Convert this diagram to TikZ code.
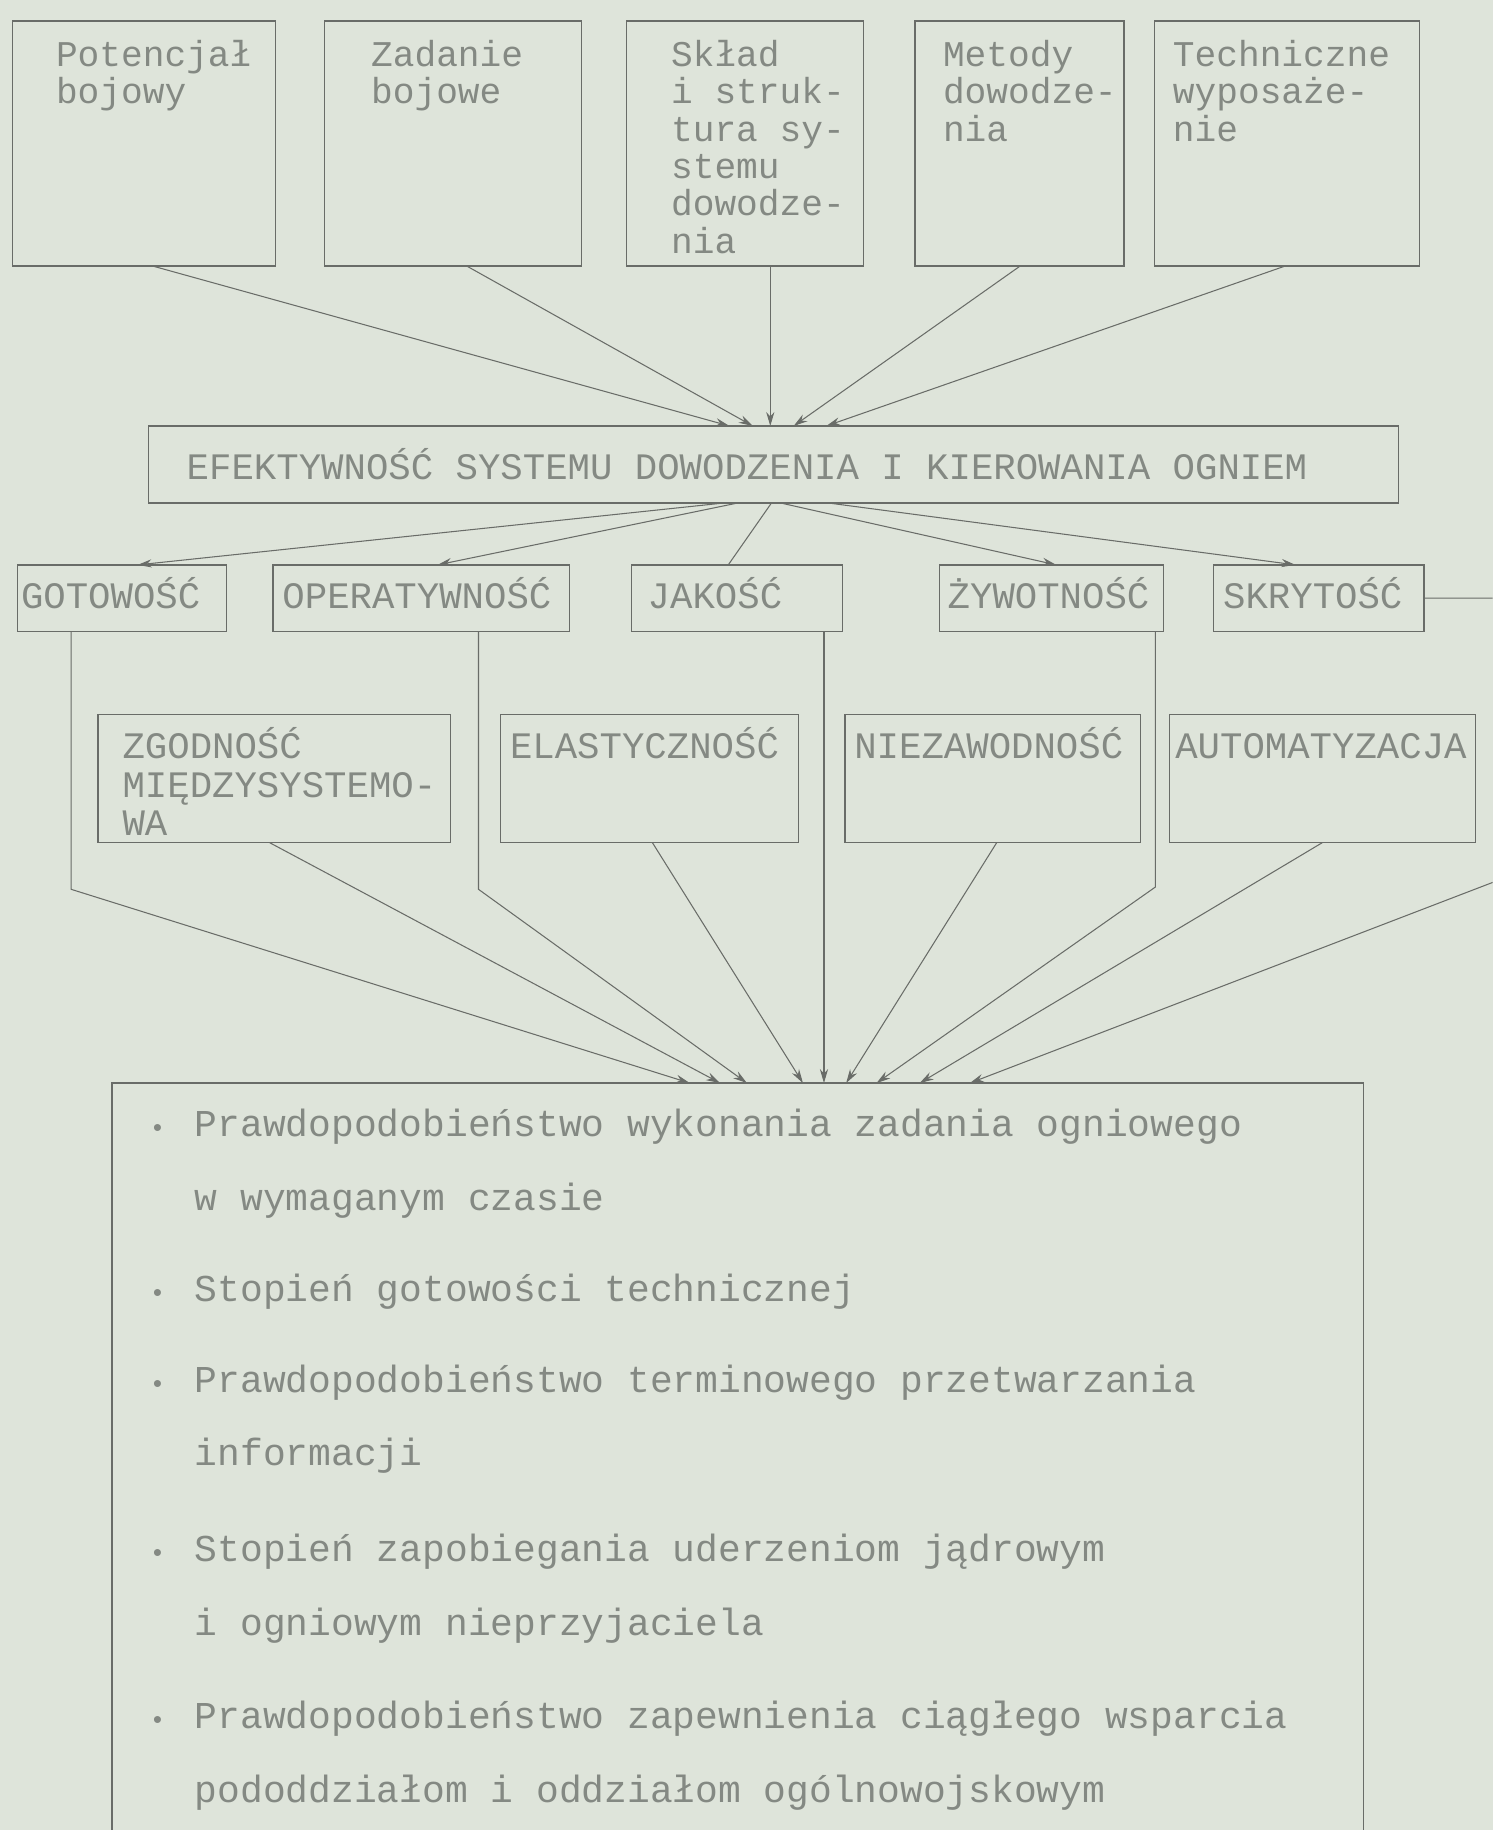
\documentclass[tikz,border=0pt]{standalone}
\usepackage{fontspec}
\setmainfont{Liberation Mono}
\usetikzlibrary{arrows.meta}
\definecolor{bg}{RGB}{222,228,218}
\definecolor{linecol}{RGB}{105,108,104}
\definecolor{txtcol}{RGB}{132,137,131}
\newcommand\tstrut{\rule{0pt}{16pt}}
\newcommand\bul{\llap{\makebox[12pt][c]{\fontsize{11pt}{11pt}\selectfont •}\hspace{10pt}}}
\begin{document}
\setlength{\lineskiplimit}{-20pt}
\setlength{\lineskip}{0pt}
\begin{tikzpicture}[x=0.5pt,y=-0.5pt,
  box/.style={draw=linecol, line width=0.55pt, inner sep=0pt, outer sep=0pt, anchor=north west},
  txt/.style={text=txtcol, inner sep=0pt, outer sep=0pt, anchor=north west, align=left,
    font=\fontsize{15.5pt}{16pt}\selectfont},
  txtb/.style={txt, font=\fontsize{16pt}{16.5pt}\selectfont},
  item/.style={txt, font=\fontsize{16.25pt}{31.5pt}\selectfont},
  lbl/.style={text=txtcol, inner sep=0pt, outer sep=0pt, anchor=base west, font=\fontsize{16pt}{16pt}\selectfont},
  conn/.style={draw=linecol, line width=0.45pt},
  arr/.style={conn, -{Stealth[length=6pt,width=3.5pt]}}]
\fill[bg] (0,0) rectangle (1279,1568);
\useasboundingbox (0,0) rectangle (1279,1568);
\clip (0,0) rectangle (1279,1568);

% top row
\node[box, minimum width=112.5pt, minimum height=105pt] (b1) at (11,18) {};
\node[box, minimum width=110pt,   minimum height=105pt] (b2) at (278,18) {};
\node[box, minimum width=101.5pt, minimum height=105pt] (b3) at (537,18) {};
\node[box, minimum width=89.5pt,  minimum height=105pt] (b4) at (784,18) {};
\node[box, minimum width=113.5pt, minimum height=105pt] (b5) at (989,18) {};
\node[txt] (t1) at (48,25) {\tstrut Potencjał\\bojowy};
\node[txt] (t2) at (318,25) {\tstrut Zadanie\\bojowe};
\node[txt] (t3) at (575,25) {\tstrut Skład\\i struk-\\tura sy-\\stemu\\dowodze-\\nia};
\node[txt] (t4) at (808,25) {\tstrut Metody\\dowodze-\\nia};
\node[txt] (t5) at (1005,25) {\tstrut Techniczne\\wyposaże-\\nie};

% central box
\node[box, minimum width=535.5pt, minimum height=33pt] (eff) at (127,365) {};
\node[lbl] (teff) at (160,411) {EFEKTYWNOŚĆ SYSTEMU DOWODZENIA I KIEROWANIA OGNIEM};

% second row
\node[box, minimum width=89.5pt, minimum height=28.5pt] (got) at (15,484) {};
\node[box, minimum width=127pt,  minimum height=28.5pt] (ope) at (234,484) {};
\node[box, minimum width=90.5pt, minimum height=28.5pt] (jak) at (541,484) {};
\node[box, minimum width=96pt,   minimum height=28.5pt] (zyw) at (805,484) {};
\node[box, minimum width=90pt,   minimum height=28.5pt] (skr) at (1040,484) {};
\node[lbl] (tgot) at (18,521) {GOTOWOŚĆ};
\node[lbl] (tope) at (242,521) {OPERATYWNOŚĆ};
\node[lbl] (tjak) at (555,521) {JAKOŚĆ};
\node[lbl] (tzyw) at (812,521) {ŻYWOTNOŚĆ};
\node[lbl] (tskr) at (1048,521) {SKRYTOŚĆ};

% third row
\node[box, minimum width=151pt,   minimum height=55pt] (zgo) at (84,612) {};
\node[box, minimum width=127.5pt, minimum height=55pt] (ela) at (429,612) {};
\node[box, minimum width=126.5pt, minimum height=55pt] (nie) at (724,612) {};
\node[box, minimum width=131pt,   minimum height=55pt] (aut) at (1002,612) {};
\node[txtb] (tzgo) at (105,618) {\tstrut ZGODNOŚĆ\\MIĘDZYSYSTEMO-\\WA};
\node[lbl] (tela) at (437,650) {ELASTYCZNOŚĆ};
\node[lbl] (tnie) at (732,650) {NIEZAWODNOŚĆ};
\node[lbl] (taut) at (1007,650) {AUTOMATYZACJA};

% bottom box
\node[box, minimum width=536pt, minimum height=350pt] (bot) at (96,928) {};
\node[item] (i1) at (167,942) {\bul\tstrut Prawdopodobieństwo wykonania zadania ogniowego\\w wymaganym czasie};
\node[item] (i2) at (167,1083) {\bul\tstrut Stopień gotowości technicznej};
\node[item] (i3) at (167,1161) {\bul\tstrut Prawdopodobieństwo terminowego przetwarzania\\informacji};
\node[item] (i4) at (167,1306) {\bul\tstrut Stopień zapobiegania uderzeniom jądrowym\\i ogniowym nieprzyjaciela};
\node[item] (i5) at (167,1449) {\bul\tstrut Prawdopodobieństwo zapewnienia ciągłego wsparcia\\pododdziałom i oddziałom ogólnowojskowym};

% top connectors
\draw[arr] ([xshift=3.75pt]b1.south) -- ([xshift=-18.75pt]eff.north);
\draw[arr] ([xshift=6pt]b2.south) -- ([xshift=-8.75pt]eff.north);
\draw[arr] ([xshift=10.75pt]b3.south) -- ([xshift=-1.25pt]eff.north);
\draw[arr] ([xshift=0.25pt]b4.south) -- ([xshift=8.75pt]eff.north);
\draw[arr] ([xshift=-0.75pt]b5.south) -- ([xshift=22.75pt]eff.north);

% middle connectors
\draw[arr] ([xshift=-21.25pt]eff.south) -- ([xshift=6.75pt]got.north);
\draw[arr] ([xshift=-15.25pt]eff.south) -- ([xshift=7pt]ope.north);
\draw[conn] ([xshift=-0.75pt]eff.south) -- ([xshift=-3.75pt]jak.north);
\draw[arr] ([xshift=3.25pt]eff.south) -- ([xshift=2pt]zyw.north);
\draw[arr] ([xshift=23.75pt]eff.south) -- ([xshift=-10pt]skr.north);

% lower connectors
\coordinate (sk1) at (1300,515);
\coordinate (sk2) at (1300,748);
\draw[arr] ([xshift=-21.75pt]got.south) -- ++(0,221) -- ([xshift=-20.5pt]bot.north);
\draw[arr] ([xshift=-2pt]zgo.south) -- ([xshift=-7.5pt]bot.north);
\draw[arr] ([xshift=24.5pt]ope.south) -- ++(0,221) -- ([xshift=4pt]bot.north);
\draw[arr] ([xshift=1.25pt]ela.south) -- ([xshift=28pt]bot.north);
\draw[arr] ([xshift=37.25pt]jak.south) -- ([xshift=37.25pt]jak.south |- bot.north);
\draw[arr] ([xshift=1.75pt]nie.south) -- ([xshift=46.5pt]bot.north);
\draw[arr] ([xshift=44.5pt]zyw.south) -- ++(0,219) -- ([xshift=59.5pt]bot.north);
\draw[arr] (aut.south) -- ([xshift=78pt]bot.north);
\draw[arr] (skr.east) -- (skr.east -| sk1) -- (sk2) -- ([xshift=99.5pt]bot.north);
\end{tikzpicture}
\end{document}
